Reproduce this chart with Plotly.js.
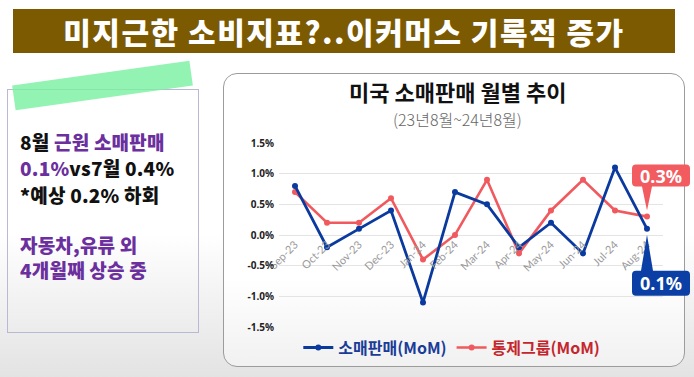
<!DOCTYPE html>
<html>
<head>
<meta charset="utf-8">
<script src="https://cdn.plot.ly/plotly-3.0.1.min.js"></script>
<style>
  html, body { margin:0; padding:0; }
  body { width:694px; height:377px; overflow:hidden; position:relative;
    background: linear-gradient(180deg, #ffffff 0%, #ffffff 62%, #e3e3e3 100%);
    font-family: "Noto Sans CJK KR", "Noto Sans", sans-serif; }
  #banner { position:absolute; left:13px; top:9px; width:662px; height:44px;
    background:#7b5a02; color:#fff; font-size:30px; font-weight:900; text-align:center;
    line-height:44px; letter-spacing:1.5px; }
  #strip { position:absolute; left:13px; top:73px; width:179px; height:25px;
    background:rgba(120,240,160,0.8); transform:rotate(-8deg); transform-origin:center; }
  #leftbox { position:absolute; left:7px; top:89px; width:190px; height:242px;
    border:1px solid #b9b9d6; }
  .ln { position:absolute; left:20px; height:26px; line-height:26px; font-size:19px;
    font-weight:900; color:#111; white-space:nowrap; letter-spacing:0.2px; }
  .pp { color:#6b2f9e; }
  #chartbox { position:absolute; left:223px; top:73px; width:460px; height:292px;
    border:1.5px solid #9c9c9c; border-radius:14px;
    background: linear-gradient(180deg, #ffffff 0%, #ffffff 70%, #f1f1f1 100%); }
  #chart { position:absolute; left:0; top:0; width:694px; height:377px; }
  #overlay { position:absolute; left:0; top:0; width:694px; height:377px; pointer-events:none; }
</style>
</head>
<body>
<div id="banner">미지근한 소비지표?..이커머스 기록적 증가</div>
<div id="leftbox"></div>
<div id="strip"></div>
<div class="ln" style="top:129px">8월 <span class="pp">근원 소매판매</span></div>
<div class="ln" style="top:155px"><span class="pp">0.1%</span>vs7월 0.4%</div>
<div class="ln" style="top:182px">*예상 0.2% 하회</div>
<div class="ln pp" style="top:232px">자동차,유류 외</div>
<div class="ln pp" style="top:257px">4개월째 상승 중</div>
<div id="chartbox"></div>
<div id="chart"></div>
<svg id="overlay" xmlns="http://www.w3.org/2000/svg" width="694" height="377"></svg>
<script>
const months = ['Sep-23','Oct-23','Nov-23','Dec-23','Jan-24','Feb-24','Mar-24','Apr-24','May-24','Jun-24','Jul-24','Aug-24'];
const retailSales = [0.8, -0.2, 0.1, 0.4, -1.1, 0.7, 0.5, -0.2, 0.2, -0.3, 1.1, 0.1];
const controlGroup = [0.7, 0.2, 0.2, 0.6, -0.4, 0.0, 0.9, -0.3, 0.4, 0.9, 0.4, 0.3];
const yTickVals = [-1.5, -1.0, -0.5, 0.0, 0.5, 1.0, 1.5];
const yTickText = ['-1.5%', '-1.0%', '-0.5%', '0.0%', '0.5%', '1.0%', '1.5%'];
const yRange = [-1.5, 1.5];

const BLUE = '#0b3a9f';
const RED = '#f05a5e';
const lastIdx = months.length - 1;
const lastBlue = retailSales[lastIdx];
const lastRed = controlGroup[lastIdx];

const traces = [
  { x: months, y: controlGroup, type: 'scatter', mode: 'lines+markers',
    name: '<span style="color:#c4262e"><b>통제그룹(MoM)</b></span>', legendrank: 2,
    line: { color: RED, width: 2.6 }, marker: { color: RED, size: 6 } },
  { x: months, y: retailSales, type: 'scatter', mode: 'lines+markers',
    name: '<span style="color:#1a3c98"><b>소매판매(MoM)</b></span>', legendrank: 1,
    line: { color: BLUE, width: 2.8 }, marker: { color: BLUE, size: 6 } }
];

const layout = {
  width: 694, height: 377,
  margin: { l: 279, r: 31, t: 143, b: 46, pad: 0 },
  paper_bgcolor: 'rgba(0,0,0,0)', plot_bgcolor: 'rgba(0,0,0,0)',
  font: { family: '"Noto Sans CJK KR", "Noto Sans", sans-serif' },
  showlegend: true,
  legend: { orientation: 'h', x: 0.45, xanchor: 'center', y: -0.112, yanchor: 'middle',
    font: { size: 16, weight: 900 }, bgcolor: 'rgba(0,0,0,0)', itemwidth: 30, tracegroupgap: 0 },
  xaxis: { type: 'category', range: [-0.5, months.length - 0.5], anchor: 'free',
    position: (0 - yRange[0]) / (yRange[1] - yRange[0]),
    showgrid: false, showline: false, zeroline: false, ticks: '', tickangle: -45,
    tickfont: { size: 11, color: '#9a9a9a', family: 'Lato, "Noto Sans", sans-serif' }, fixedrange: true },
  yaxis: { range: yRange, tickvals: yTickVals, ticktext: yTickText, showgrid: true,
    gridcolor: '#e4e4e4', gridwidth: 1, zeroline: false, showline: false, ticks: '',
    ticklabelstandoff: 4,
    tickfont: { size: 10, color: '#222', weight: 700, family: '"Noto Sans", sans-serif' }, fixedrange: true },
  annotations: [
    { text: '<b>미국 소매판매 월별 추이</b>', xref: 'paper', yref: 'paper', x: 0.464, y: 1.285,
      xanchor: 'center', yanchor: 'middle', showarrow: false, font: { size: 22, color: '#111', weight: 900 } },
    { text: '(23년8월~24년8월)', xref: 'paper', yref: 'paper', x: 0.464, y: 1.13,
      xanchor: 'center', yanchor: 'middle', showarrow: false, font: { size: 16, color: '#666', weight: 300 } }
  ]
};

function drawCallouts(gd) {
  const xa = gd._fullLayout.xaxis, ya = gd._fullLayout.yaxis;
  const svg = document.getElementById('overlay');
  const NS = 'http://www.w3.org/2000/svg';
  function callout(value, color, above) {
    const px = xa._offset + xa.l2p(lastIdx);
    const py = ya._offset + ya.l2p(value);
    const bx0 = px - 15, bx1 = px + 43, r = 4;
    let d, ty;
    if (above) {
      const by0 = py - 52, by1 = py - 30; // top, bottom of box
      d = `M ${bx0 + r},${by0} L ${bx1 - r},${by0} Q ${bx1},${by0} ${bx1},${by0 + r} L ${bx1},${by1 - r} Q ${bx1},${by1} ${bx1 - r},${by1}` +
          ` L ${px + 5},${by1} L ${px},${py - 6} L ${px - 5},${by1} L ${bx0 + r},${by1} Q ${bx0},${by1} ${bx0},${by1 - r} L ${bx0},${by0 + r} Q ${bx0},${by0} ${bx0 + r},${by0} Z`;
      ty = (by0 + by1) / 2;
    } else {
      const by0 = py + 42, by1 = py + 67;
      d = `M ${bx0 + r},${by0} L ${px - 6},${by0} L ${px},${py + 6} L ${px + 6},${by0} L ${bx1 - r},${by0} Q ${bx1},${by0} ${bx1},${by0 + r} L ${bx1},${by1 - r} Q ${bx1},${by1} ${bx1 - r},${by1}` +
          ` L ${bx0 + r},${by1} Q ${bx0},${by1} ${bx0},${by1 - r} L ${bx0},${by0 + r} Q ${bx0},${by0} ${bx0 + r},${by0} Z`;
      ty = (by0 + by1) / 2;
    }
    const p = document.createElementNS(NS, 'path');
    p.setAttribute('d', d); p.setAttribute('fill', color);
    svg.appendChild(p);
    const t = document.createElementNS(NS, 'text');
    t.setAttribute('x', (bx0 + bx1) / 2); t.setAttribute('y', ty);
    t.setAttribute('text-anchor', 'middle'); t.setAttribute('dominant-baseline', 'central');
    t.setAttribute('fill', '#fff');
    t.setAttribute('style', 'font-family:"Noto Sans", "Noto Sans CJK KR", sans-serif; font-size:18px; font-weight:700;');
    t.textContent = value.toFixed(1) + '%';
    svg.appendChild(t);
  }
  callout(lastRed, '#f25b5f', true);
  callout(lastBlue, '#0b3fa5', false);
}

Plotly.newPlot('chart', traces, layout, { displayModeBar: false, staticPlot: true })
  .then(drawCallouts);
</script>
</body>
</html>
